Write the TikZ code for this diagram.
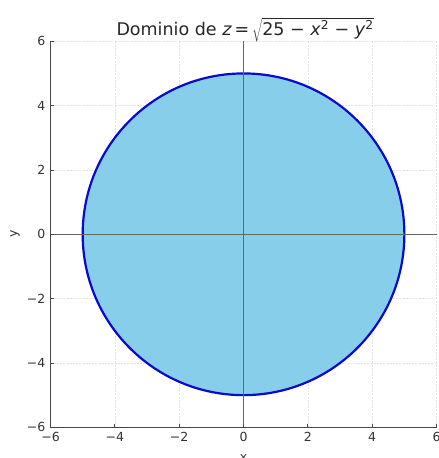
\documentclass[tikz,border=0pt]{standalone}
\usepackage{fontspec}
\setmainfont{DejaVu Sans}
\definecolor{skyfill}{HTML}{87CEEB}
\definecolor{edgeblue}{HTML}{0A0ACF}
\begin{document}
\begin{tikzpicture}[x=32.17pt,y=32.17pt,
  gridline/.style={draw=black!11, line width=0.5pt, dash pattern=on 2pt off 1.2pt},
  spine/.style={draw=black!72, line width=1pt},
  axisline/.style={draw=black!60, line width=0.9pt},
  ticklab/.style={font=\fontsize{12.5}{14}\selectfont, text=black!80, inner sep=0pt},
  tickmark/.style={draw=black!72, line width=0.8pt},
  region/.style={fill=skyfill, draw=edgeblue, line width=2.2pt}]
\useasboundingbox (-7.570,-6.954) rectangle (6.052,7.283);
% grid
\foreach \g in {-4,-2,2,4,6} {
  \draw[gridline] (\g,-6) -- (\g,6);
  \draw[gridline] (-6,\g) -- (6,\g);
}
% region
\node[region, circle, minimum size=321.7pt, inner sep=0pt, outer sep=0pt] (disk) at (0,0) {};
% axis lines
\coordinate (xl) at (-6,0); \coordinate (xr) at (6,0);
\coordinate (yb) at (0,-6); \coordinate (yt) at (0,6);
\draw[axisline] (xl) -- (xr);
\draw[axisline] (yb) -- (yt);
% spines
\coordinate (o) at (-6,-6);
\draw[spine] (-6,6) -- (o) -- (6,-6);
% ticks and labels
\foreach \t/\lab in {-6/−6,-4/−4,-2/−2,0/0,2/2,4/4,6/6} {
  \draw[tickmark] (\t,-6) -- ++(0,3.5pt);
  \draw[tickmark] (-6,\t) -- ++(3.5pt,0);
  \node[ticklab, anchor=north] (xt\t) at ([yshift=-5pt]\t,-6) {\lab};
  \node[ticklab, anchor=east] (yt\t) at ([xshift=-5pt]-6,\t) {\lab};
}
% axis labels
\node[ticklab, anchor=north] (xlab) at (0,-6.83) {x};
\node[ticklab, anchor=base, rotate=90] (ylab) at (-7.041,0) {y};
% title
\node[inner sep=0pt, anchor=base, font=\fontsize{17.5}{20}\selectfont, text=black!85] (title) at (0.05,6.164)
  {Dominio de \textit{z}\,=\,$\sqrt{\hbox{25 − \textit{x}\textsuperscript{2} − \textit{y}\textsuperscript{2}}}$};
\end{tikzpicture}
\end{document}
